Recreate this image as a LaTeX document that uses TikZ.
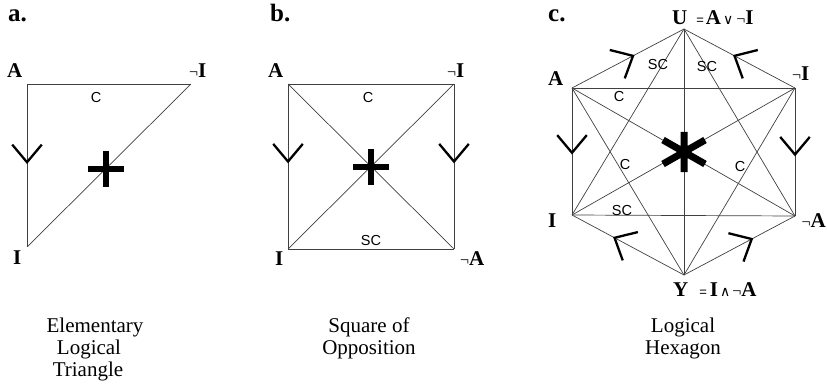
\documentclass[tikz,border=0pt]{standalone}
\usepackage{fontspec}
\setmainfont{Liberation Serif}
\newfontfamily\sansf{Liberation Sans}
\newfontfamily\symf{DejaVu Sans}
\usetikzlibrary{calc}

\newcommand{\negs}{{\mdseries\fontsize{16}{16}\selectfont ¬}}
\newcommand{\smeq}{{\sansf\mdseries\fontsize{13}{13}\selectfont =}}
\newcommand{\smor}{{\symf\mdseries\fontsize{14}{14}\selectfont ∨}}
\newcommand{\smand}{{\symf\mdseries\fontsize{14}{14}\selectfont ∧}}

\tikzset{
  edgeline/.style={line width=0.7pt, draw=black!75},
  vmark/.style={line width=2.3pt, draw=black},
  lab/.style={inner sep=0pt, anchor=base west, font=\fontsize{21}{21}\selectfont\bfseries},
  panel/.style={inner sep=0pt, anchor=base west, font=\fontsize{25}{25}\selectfont\bfseries},
  rel/.style={inner sep=0pt, font=\fontsize{14.5}{14.5}\selectfont\sansf},
  captext/.style={inner sep=0pt, anchor=base, font=\fontsize{21}{22}\selectfont},
  plusmark/.pic={\draw[line width=6pt] (-18,0) -- (18,0) (0,-18) -- (0,18);},
  starmark/.pic={\draw[line width=7pt] (0,-20) -- (0,20) (-21,-12) -- (21,12) (-21,12) -- (21,-12);},
}

\begin{document}
\begin{tikzpicture}[x=1pt,y=-1pt]
\useasboundingbox (0,0) rectangle (827,385);

% ---------------- panel a ----------------
\coordinate (aA) at (27,84);
\coordinate (aNI) at (191,84);
\coordinate (aI) at (27,247);
\draw[edgeline] (aA) -- (aNI);
\draw[edgeline] (aA) -- (aI);
\draw[edgeline] (aNI) -- (aI);
\path (aA) -- (aI) coordinate[pos=0.48] (av);
\draw[vmark] ($(av)!23pt!140:(aI)$) -- (av) -- ($(av)!23pt!-140:(aI)$);
\pic at (106,169) {plusmark};
\node[panel] (la) at (8,22) {a.};
\node[lab] (laA) at (7,78) {A};
\node[lab] (laNI) at (189,78) {\negs I};
\node[lab] (laI) at (13,264) {I};
\node[rel] (laC) at (96,98) {C};
\node[captext] (ca1) at (95,332) {Elementary};
\node[captext] (ca2) at (89,354) {Logical};
\node[captext] (ca3) at (88,376) {Triangle};

% ---------------- panel b ----------------
\coordinate (bA) at (288,84);
\coordinate (bNI) at (454,84);
\coordinate (bI) at (288,249);
\coordinate (bNA) at (454,249);
\draw[edgeline] (bA) -- (bNI);
\draw[edgeline] (bA) -- (bI);
\draw[edgeline] (bNI) -- (bNA);
\draw[edgeline] (bI) -- (bNA);
\draw[edgeline] (bA) -- (bNA);
\draw[edgeline] (bNI) -- (bI);
\path (bA) -- (bI) coordinate[pos=0.47] (bv1);
\path (bNI) -- (bNA) coordinate[pos=0.47] (bv2);
\draw[vmark] ($(bv1)!23pt!140:(bI)$) -- (bv1) -- ($(bv1)!23pt!-140:(bI)$);
\draw[vmark] ($(bv2)!23pt!140:(bNA)$) -- (bv2) -- ($(bv2)!23pt!-140:(bNA)$);
\pic at (371,167) {plusmark};
\node[panel] (lb) at (270,22) {b.};
\node[lab] (lbA) at (268,78) {A};
\node[lab] (lbNI) at (447,78) {\negs I};
\node[lab] (lbI) at (275,265) {I};
\node[lab] (lbNA) at (460,265) {\negs A};
\node[rel] (lbC) at (368,98) {C};
\node[rel] (lbSC) at (371,241) {SC};
\node[captext] (cb1) at (369,332) {Square of};
\node[captext] (cb2) at (369,354) {Opposition};

% ---------------- panel c ----------------
\coordinate (hU) at (684,29);
\coordinate (hA) at (572,88);
\coordinate (hNI) at (795,88);
\coordinate (hI) at (572,215);
\coordinate (hNA) at (795,216);
\coordinate (hY) at (684,275);
\foreach \p/\q in {hU/hA, hU/hNI, hU/hI, hU/hNA, hU/hY,
                   hA/hNI, hA/hI, hA/hNA, hA/hY,
                   hNI/hI, hNI/hNA, hNI/hY,
                   hI/hNA, hI/hY, hNA/hY}
  \draw[edgeline] (\p) -- (\q);
\path (hA) -- (hI) coordinate[pos=0.51] (cv1);
\path (hNI) -- (hNA) coordinate[pos=0.52] (cv2);
\path (hA) -- (hU) coordinate[pos=0.545] (cv3);
\path (hNI) -- (hU) coordinate[pos=0.545] (cv4);
\path (hI) -- (hY) coordinate[pos=0.38] (cv5);
\path (hNA) -- (hY) coordinate[pos=0.39] (cv6);
\draw[vmark] ($(cv1)!23pt!140:(hI)$) -- (cv1) -- ($(cv1)!23pt!-140:(hI)$);
\draw[vmark] ($(cv2)!23pt!140:(hNA)$) -- (cv2) -- ($(cv2)!23pt!-140:(hNA)$);
\draw[vmark] ($(cv3)!24pt!138:(hU)$) -- (cv3) -- ($(cv3)!24pt!-138:(hU)$);
\draw[vmark] ($(cv4)!24pt!138:(hU)$) -- (cv4) -- ($(cv4)!24pt!-138:(hU)$);
\draw[vmark] ($(cv5)!24pt!138:(hI)$) -- (cv5) -- ($(cv5)!24pt!-138:(hI)$);
\draw[vmark] ($(cv6)!24pt!138:(hNA)$) -- (cv6) -- ($(cv6)!24pt!-138:(hNA)$);
\pic at (684,152) {starmark};
\node[panel] (lc) at (548,22) {c.};
\node[lab] (lcU) at (672,25) {U\hspace{9pt}\smeq\hspace{2pt}A\hspace{2pt}\smor\hspace{3pt}\negs I};
\node[lab] (lcA) at (548,86) {A};
\node[lab] (lcNI) at (792,81) {\negs I};
\node[lab] (lcI) at (548,227) {I};
\node[lab, anchor=base east] (lcNA) at (826,227) {\negs A};
\node[lab] (lcY) at (673,296) {Y\hspace{11pt}\smeq\hspace{3pt}I\hspace{2pt}\smand\hspace{2pt}\negs A};
\node[rel] (lcC1) at (619,97) {C};
\node[rel] (lcSC1) at (658,65) {SC};
\node[rel] (lcSC2) at (707,67) {SC};
\node[rel] (lcC2) at (625,165) {C};
\node[rel] (lcC3) at (740,167) {C};
\node[rel] (lcSC3) at (622,211) {SC};
\node[captext] (cc1) at (683,332) {Logical};
\node[captext] (cc2) at (683,354) {Hexagon};
\end{tikzpicture}
\end{document}
